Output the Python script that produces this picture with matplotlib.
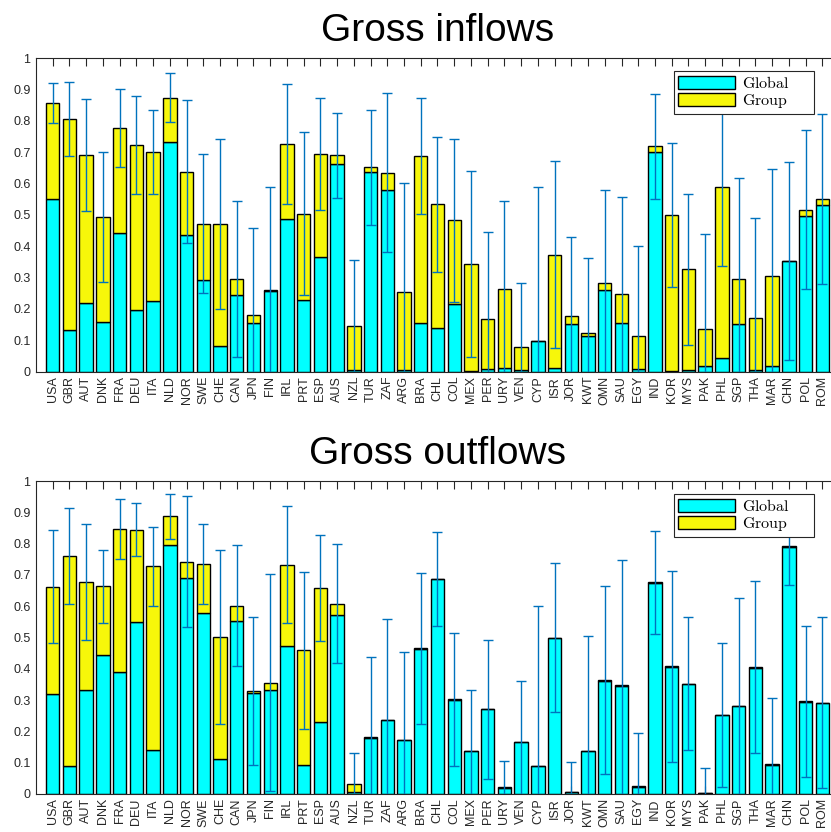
import matplotlib
matplotlib.use("Agg")
import matplotlib.pyplot as plt
from matplotlib.patches import Patch
import numpy as np

plt.rcParams['font.family'] = ['Liberation Sans', 'DejaVu Sans']
plt.rcParams['mathtext.fontset'] = 'cm'

countries = ["USA", "GBR", "AUT", "DNK", "FRA", "DEU", "ITA", "NLD", "NOR", "SWE",
             "CHE", "CAN", "JPN", "FIN", "IRL", "PRT", "ESP", "AUS", "NZL", "TUR",
             "ZAF", "ARG", "BRA", "CHL", "COL", "MEX", "PER", "URY", "VEN", "CYP",
             "ISR", "JOR", "KWT", "OMN", "SAU", "EGY", "IND", "KOR", "MYS", "PAK",
             "PHL", "SGP", "THA", "MAR", "CHN", "POL", "ROM"]

in_global = [0.552, 0.133, 0.218, 0.160, 0.443, 0.196, 0.224, 0.733, 0.437, 0.291,
             0.081, 0.244, 0.154, 0.256, 0.488, 0.229, 0.366, 0.662, 0.005, 0.636,
             0.580, 0.007, 0.154, 0.140, 0.216, 0.002, 0.010, 0.013, 0.004, 0.099,
             0.012, 0.153, 0.113, 0.259, 0.155, 0.009, 0.701, 0.002, 0.007, 0.018,
             0.045, 0.151, 0.004, 0.017, 0.353, 0.497, 0.531]
in_group = [0.304, 0.672, 0.473, 0.333, 0.334, 0.528, 0.476, 0.141, 0.201, 0.181,
            0.389, 0.052, 0.026, 0.004, 0.238, 0.275, 0.328, 0.028, 0.141, 0.015,
            0.055, 0.248, 0.533, 0.394, 0.266, 0.341, 0.159, 0.252, 0.076, 0.000,
            0.361, 0.025, 0.010, 0.025, 0.094, 0.104, 0.017, 0.497, 0.319, 0.119,
            0.543, 0.144, 0.168, 0.288, 0.000, 0.020, 0.018]
in_err = [0.064, 0.118, 0.178, 0.208, 0.124, 0.156, 0.135, 0.077, 0.229, 0.221,
          0.271, 0.248, 0.279, 0.330, 0.190, 0.260, 0.179, 0.135, 0.210, 0.184,
          0.253, 0.345, 0.184, 0.215, 0.259, 0.297, 0.275, 0.278, 0.204, 0.491,
          0.298, 0.250, 0.241, 0.296, 0.308, 0.288, 0.166, 0.229, 0.242, 0.301,
          0.250, 0.322, 0.319, 0.340, 0.317, 0.253, 0.271]

out_global = [0.321, 0.088, 0.332, 0.443, 0.390, 0.550, 0.141, 0.796, 0.691, 0.579,
              0.111, 0.554, 0.323, 0.331, 0.473, 0.093, 0.229, 0.572, 0.006, 0.180,
              0.237, 0.173, 0.464, 0.687, 0.301, 0.137, 0.270, 0.020, 0.166, 0.088,
              0.498, 0.005, 0.136, 0.362, 0.346, 0.023, 0.675, 0.407, 0.352, 0.002,
              0.251, 0.280, 0.404, 0.094, 0.790, 0.295, 0.290]
out_group = [0.341, 0.673, 0.346, 0.220, 0.457, 0.295, 0.586, 0.092, 0.051, 0.155,
             0.392, 0.048, 0.007, 0.025, 0.260, 0.366, 0.428, 0.036, 0.025, 0.001,
             0.001, 0.001, 0.001, 0.001, 0.001, 0.001, 0.001, 0.001, 0.001, 0.001,
             0.001, 0.001, 0.001, 0.001, 0.001, 0.001, 0.001, 0.001, 0.001, 0.000,
             0.001, 0.001, 0.001, 0.001, 0.001, 0.001, 0.001]
out_err = [0.180, 0.153, 0.185, 0.117, 0.097, 0.084, 0.126, 0.072, 0.210, 0.128,
           0.278, 0.192, 0.236, 0.348, 0.187, 0.250, 0.169, 0.190, 0.100, 0.257,
           0.321, 0.280, 0.242, 0.150, 0.211, 0.195, 0.222, 0.086, 0.193, 0.513,
           0.238, 0.095, 0.368, 0.300, 0.400, 0.170, 0.164, 0.306, 0.214, 0.082,
           0.229, 0.344, 0.275, 0.213, 0.124, 0.241, 0.273]

titles = ["Gross inflows", "Gross outflows"]
legend_labels = ["Global", "Group"]

CYAN = (0.0, 1.0, 1.0)
YELLOW = (0.97, 0.97, 0.04)
ERRC = "#0072BD"
AXC = "#262626"

W, H = 831, 832
fig = plt.figure(figsize=(W / 100, H / 100), dpi=100)

panels = [
    (in_global, in_group, in_err, 58, 371.7),
    (out_global, out_group, out_err, 481, 794),
]

for (g, grp, err, top_px, bot_px), title in zip(panels, titles):
    left_px, right_px = 36, 839
    ax = fig.add_axes([left_px / W, 1 - bot_px / H, (right_px - left_px) / W,
                       (bot_px - top_px) / H])
    x = np.arange(1, len(countries) + 1)
    g = np.array(g)
    grp = np.array(grp)
    tot = g + grp
    ax.bar(x, g, width=0.8, color=CYAN, edgecolor="black", linewidth=1.0, zorder=2)
    ax.bar(x, grp, bottom=g, width=0.8, color=YELLOW, edgecolor="black",
           linewidth=1.0, zorder=2)
    ax.errorbar(x, tot, yerr=np.array(err), fmt="none", ecolor=ERRC,
                elinewidth=1.0, capsize=3.3, capthick=1.0, zorder=3)
    ax.set_xlim(0, len(countries) + 1)
    ax.set_ylim(0, 1)
    ax.set_xticks(x)
    ax.set_xticklabels(countries, rotation=90, fontsize=9, color=AXC)
    ax.set_yticks(np.arange(0, 1.01, 0.1))
    ax.set_yticklabels(["0"] + ["%.1f" % v for v in np.arange(0.1, 0.95, 0.1)] + ["1"],
                       fontsize=9, color=AXC)
    ax.tick_params(axis="x", direction="in", length=6, width=0.8, top=True,
                   color=AXC, pad=3)
    ax.tick_params(axis="y", direction="in", length=0, width=0.8, color=AXC, pad=4)
    for s in ax.spines.values():
        s.set_color(AXC)
        s.set_linewidth(0.8)
    ax.set_title(title, fontsize=28, pad=12, color="black")
    handles = [Patch(facecolor=CYAN, edgecolor="black", linewidth=1.0),
               Patch(facecolor=YELLOW, edgecolor="black", linewidth=1.0)]
    ah = bot_px - top_px
    lx0 = (674 - left_px) / (right_px - left_px)
    lw = 140 / (right_px - left_px)
    ltop = 1 - 12.7 / ah
    leg = ax.legend(handles, [r"$\mathrm{%s}$" % l for l in legend_labels],
                    loc="upper right", bbox_to_anchor=(lx0, 0.5, lw, ltop - 0.5),
                    mode="expand", borderaxespad=0, fontsize=11.5, handlelength=3.6,
                    handleheight=0.85, labelspacing=0.1, borderpad=0.25,
                    handletextpad=0.4, fancybox=False, framealpha=1,
                    edgecolor=AXC)
    leg.get_frame().set_linewidth(0.8)
    leg.set_zorder(5)

fig.savefig("out.png", dpi=100)
